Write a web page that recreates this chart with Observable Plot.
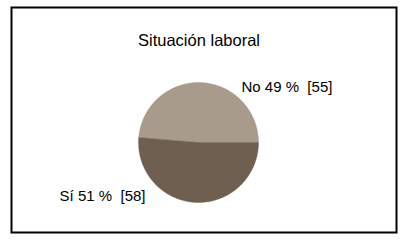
<!DOCTYPE html>
<html>
<head>
<meta charset="utf-8">
<script src="https://cdn.jsdelivr.net/npm/d3@7"></script>
<script src="https://cdn.jsdelivr.net/npm/@observablehq/plot@0.6"></script>
<style>
  html, body { margin: 0; padding: 0; background: #fff; }
  #chart svg { display: block; }
</style>
</head>
<body>
<div id="chart"></div>
<script>
// ---- data ----
const title = "Situación laboral";
const categories = ["No", "Sí"];
const counts = [55, 58];
const percents = [49, 51];
const colors = ["#a99b8b", "#6e5f50"];

// ---- pie geometry from data (unit circle, y up) ----
const arcs = d3.pie().sort(null)
  .startAngle(Math.PI / 2)
  .endAngle(Math.PI / 2 - 2 * Math.PI)(counts);

const pts = [];
arcs.forEach((a, i) => {
  const cat = categories[i];
  pts.push({cat, x: 0, y: 0});
  const n = Math.max(2, Math.ceil(Math.abs(a.endAngle - a.startAngle) / (Math.PI / 360)));
  for (let k = 0; k <= n; k++) {
    const t = a.startAngle + (a.endAngle - a.startAngle) * k / n;
    pts.push({cat, x: Math.sin(t), y: Math.cos(t)});
  }
  pts.push({cat, x: 0, y: 0});
});

const labels = categories.map((c, i) => ({
  cat: c,
  text: `${c} ${percents[i]} %\u00a0 [${counts[i]}]`
}));

const font = "Arial, 'Liberation Sans', Helvetica, sans-serif";

const chart = Plot.plot({
  width: 404,
  height: 241,
  marginLeft: 138,
  marginRight: 146,
  marginTop: 82,
  marginBottom: 39,
  style: {background: "#fff", fontFamily: font, color: "#000"},
  x: {domain: [-1, 1], axis: null},
  y: {domain: [-1, 1], axis: null},
  color: {domain: categories, range: colors},
  marks: [
    Plot.line(pts, {x: "x", y: "y", z: "cat", fill: "cat", stroke: "cat", strokeWidth: 0.4}),
    Plot.text([title], {
      text: d => d, frameAnchor: "top", lineAnchor: "bottom",
      dy: -37, dx: 0.5, fontSize: 16.5, fill: "#000"
    }),
    Plot.text([labels[0]], {
      text: "text", frameAnchor: "top-right", textAnchor: "start", lineAnchor: "bottom",
      dx: -17, dy: 9, fontSize: 15, fill: "#000"
    }),
    Plot.text([labels[1]], {
      text: "text", frameAnchor: "bottom-left", textAnchor: "end", lineAnchor: "bottom",
      dx: 7, dy: -2, fontSize: 15, fill: "#000"
    }),
    Plot.frame({
      stroke: "#000", strokeWidth: 2, fill: "none",
      insetLeft: -127, insetTop: -75, insetRight: -138, insetBottom: -30
    })
  ]
});

document.getElementById("chart").appendChild(chart);
</script>
</body>
</html>
